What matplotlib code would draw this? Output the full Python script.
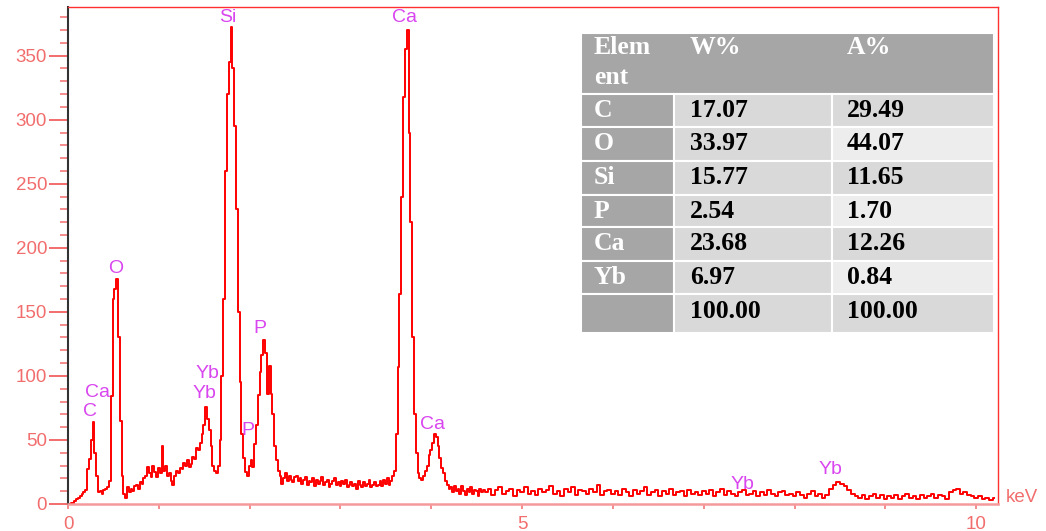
"""EDS spectrum with element composition table."""

import numpy as np
import matplotlib
matplotlib.use("Agg")
import matplotlib.pyplot as plt
from matplotlib.patches import Rectangle
from matplotlib.ticker import MultipleLocator, FixedLocator

# ---------------------------------------------------------------------
# Spectrum data
# ---------------------------------------------------------------------
# 0.00 - 4.58 keV, 0.02 keV per channel
E_LOW_START, E_LOW_STEP = 0.0, 0.02
counts_low = [
    0, 0, 1, 1, 2, 4, 5, 6, 8, 9,                       # 0.00-0.18
    11, 27, 35, 50, 64, 40, 22, 9, 10, 8,               # 0.20-0.38
    11, 12, 13, 18, 84, 160, 168, 176, 130, 65,         # 0.40-0.58
    22, 8, 5, 13, 9, 12, 10, 14, 15, 12,                # 0.60-0.78
    17, 16, 20, 22, 29, 24, 21, 30, 25, 21,             # 0.80-0.98
    28, 24, 45, 26, 30, 22, 24, 18, 15, 22,             # 1.00-1.18
    26, 24, 28, 27, 32, 30, 34, 29, 31, 37,             # 1.20-1.38
    35, 44, 42, 48, 55, 62, 76, 66, 58, 45,             # 1.40-1.58
    30, 26, 24, 30, 50, 100, 160, 260, 320, 345,        # 1.60-1.78
    372, 340, 295, 230, 150, 95, 55, 36, 25, 22,        # 1.80-1.98
    30, 34, 29, 47, 62, 85, 103, 116, 128, 118,         # 2.00-2.18
    86, 108, 86, 70, 45, 34, 26, 22, 16, 20,            # 2.20-2.38
    24, 18, 22, 19, 17, 21, 22, 18, 20, 16,             # 2.40-2.58
    19, 21, 15, 18, 17, 20, 14, 19, 16, 18,             # 2.60-2.78
    21, 15, 17, 19, 13, 16, 18, 20, 15, 17,             # 2.80-2.98
    14, 18, 16, 19, 13, 15, 17, 14, 16, 12,             # 3.00-3.18
    18, 15, 13, 17, 14, 16, 19, 13, 15, 17,             # 3.20-3.38
    14, 15, 18, 14, 19, 16, 20, 15, 18, 22,             # 3.40-3.58
    26, 55, 107, 164, 240, 318, 355, 370, 290, 220,     # 3.60-3.78
    130, 70, 40, 24, 20, 19, 22, 26, 30, 38,            # 3.80-3.98
    42, 48, 55, 52, 45, 36, 28, 24, 18, 15,             # 4.00-4.18
    12, 13, 9, 14, 10, 12, 8, 14, 10, 7,                # 4.20-4.38
    12, 9, 13, 8, 11, 10, 6, 12, 9, 11,                 # 4.40-4.58
]

# 4.60 - 10.20 keV, 0.04 keV per channel
E_HIGH_START, E_HIGH_STEP = 4.60, 0.04
counts_high = [
    9, 12, 7, 11, 13, 8, 10, 12, 6, 11, 9,
    13, 8, 10, 7, 12, 9, 11, 14, 8, 10, 6, 12, 9, 13, 7, 11, 10, 8, 12, 9, 15, 7, 10, 11, 8,
    10, 7, 12, 9, 6, 11, 8, 10, 13, 7, 9, 11, 6, 10, 8, 12, 7, 9, 10, 6, 11, 8, 9, 7, 10,
    8, 11, 6, 9, 12, 7, 10, 8, 6, 9, 11, 7, 8, 10, 6, 9, 7, 11, 8, 6, 9, 10, 7, 8, 6,
    9, 7, 5, 8, 10, 6, 8, 5, 7, 12, 15, 17, 16, 14, 11, 8, 6, 5, 7, 4, 6, 8, 5, 7, 4,
    6, 5, 7, 4, 6, 8, 5, 6, 4, 7, 5, 6, 8, 5, 7, 6, 4, 9, 11, 12, 8, 9, 7, 6, 5,
    6, 4, 5, 3, 5,
]

# peak labels (element, keV, counts at label centre)
peak_names = ["Si", "Ca", "O", "P", "Yb", "Yb", "Ca", "C", "P", "Ca", "Yb", "Yb"]
peak_x = [1.76, 3.70, 0.52, 2.11, 1.54, 1.50, 0.33, 0.24, 1.98, 4.01, 7.43, 8.39]
peak_y = [380, 380, 184, 137, 102, 86, 87, 72, 57, 62, 15, 27]

# composition table
elements = ["C", "O", "Si", "P", "Ca", "Yb", ""]
w_pct = ["17.07", "33.97", "15.77", "2.54", "23.68", "6.97", "100.00"]
a_pct = ["29.49", "44.07", "11.65", "1.70", "12.26", "0.84", "100.00"]

energy_low = E_LOW_START + E_LOW_STEP * np.arange(len(counts_low))
energy_high = E_HIGH_START + E_HIGH_STEP * np.arange(len(counts_high))
energy = np.concatenate([energy_low, energy_high])
counts = np.concatenate([counts_low, counts_high])

# ---------------------------------------------------------------------
# Plot
# ---------------------------------------------------------------------
W, H = 1046, 531
fig = plt.figure(figsize=(W / 100, H / 100), dpi=100)
ax = fig.add_axes([68 / W, 1 - 504 / H, (998 - 68) / W, (504 - 7) / H])

TICK_RED = "#f26d6d"
LABEL_PINK = "#d946ef"

ax.plot(energy, counts, color="#ff0000", lw=1.4, drawstyle="steps-mid")
ax.set_xlim(0, 10.24)
ax.set_ylim(0, 388)

ax.yaxis.set_major_locator(FixedLocator(np.arange(0, 351, 50)))
ax.yaxis.set_minor_locator(MultipleLocator(10))
ax.xaxis.set_major_locator(FixedLocator([0, 5, 10]))
ax.xaxis.set_minor_locator(MultipleLocator(1))

ax.tick_params(axis="y", which="major", length=14, width=1.4, color=TICK_RED,
               labelcolor=TICK_RED, labelsize=13.5, pad=1)
ax.tick_params(axis="y", which="minor", length=6, width=1.1, color=TICK_RED)
ax.tick_params(axis="x", which="both", length=3.5, width=1.1, color=TICK_RED,
               labelcolor=TICK_RED, labelsize=13.5, pad=5)
for lab in ax.get_xticklabels() + ax.get_yticklabels():
    lab.set_family("Liberation Sans")

ax.spines["left"].set_color("#333333")
ax.spines["left"].set_linewidth(1.5)
ax.spines["bottom"].set_color("#f59a9a")
ax.spines["bottom"].set_linewidth(1.8)
for s in ("top", "right"):
    ax.spines[s].set_color("#ff3030")
    ax.spines[s].set_linewidth(1.0)

for name, x, y in zip(peak_names, peak_x, peak_y):
    ax.text(x, y, name, color=LABEL_PINK, fontsize=14, family="Liberation Sans",
            ha="center", va="center")

fig.text(1006 / W, 1 - 497 / H, "keV", color=TICK_RED, fontsize=13.5,
         family="Liberation Sans", ha="left", va="center")

# ---------------------------------------------------------------------
# Table (pixel coordinates overlay)
# ---------------------------------------------------------------------
tab = fig.add_axes([0, 0, 1, 1])
tab.set_xlim(0, W)
tab.set_ylim(H, 0)
tab.axis("off")

col_edges = [581, 674, 832, 994]
row_edges = [33, 94, 127, 161, 195, 227, 261, 294, 333]
HEAD = "#a6a6a6"
DARK = "#d9d9d9"
LIGHT = "#ededed"
tfont = dict(family="Liberation Serif", fontweight="bold", fontsize=18.5)

def cell(x0, x1, y0, y1, color):
    tab.add_patch(Rectangle((x0, y0), x1 - x0, y1 - y0, facecolor=color,
                            edgecolor="white", lw=1.5))

cell(col_edges[0], col_edges[3], row_edges[0], row_edges[1], HEAD)
tab.text(594, 48, "Elem", color="white", va="center", **tfont)
tab.text(594, 78, "ent", color="white", va="center", **tfont)
tab.text(690, 48, "W%", color="white", va="center", **tfont)
tab.text(847, 48, "A%", color="white", va="center", **tfont)

for i, (el, w, a) in enumerate(zip(elements, w_pct, a_pct)):
    y0, y1 = row_edges[i + 1], row_edges[i + 2]
    yc = (y0 + y1) / 2 if i < len(elements) - 1 else y0 + 17
    cell(col_edges[0], col_edges[1], y0, y1, HEAD)
    cell(col_edges[1], col_edges[2], y0, y1, DARK)
    cell(col_edges[2], col_edges[3], y0, y1, LIGHT if i % 2 == 1 else DARK)
    tab.text(594, yc, el, color="white", va="center", **tfont)
    tab.text(690, yc, w, color="black", va="center", **tfont)
    tab.text(847, yc, a, color="black", va="center", **tfont)

fig.savefig("out.png", dpi=100)
